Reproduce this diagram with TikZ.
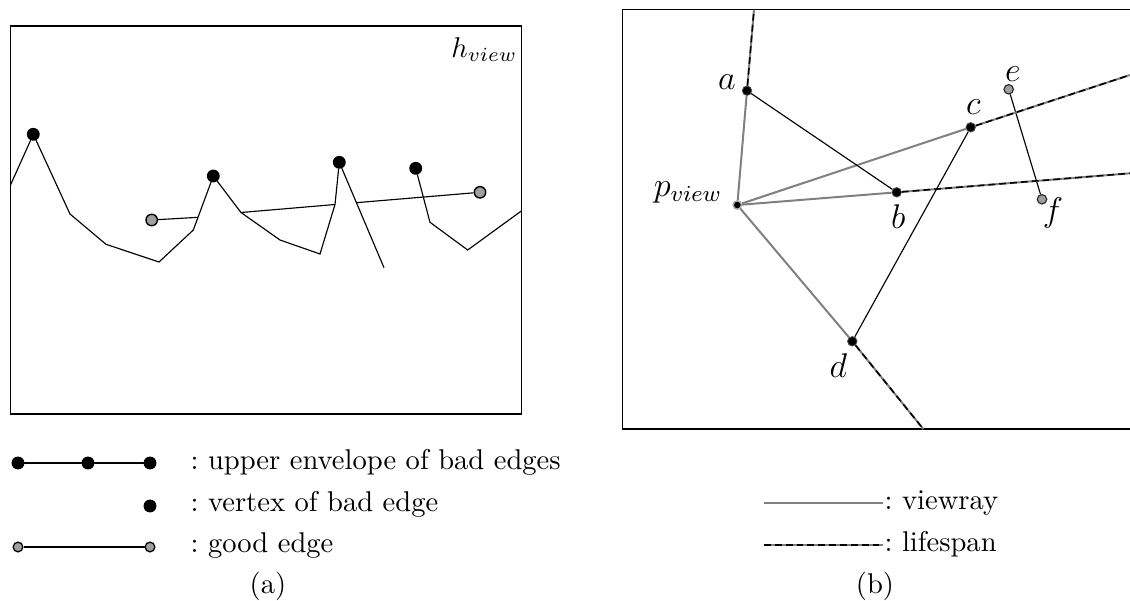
\documentclass[tikz,border=0pt]{standalone}
\usetikzlibrary{calc}
\begin{document}
\begin{tikzpicture}[x=0.35pt,y=-0.35pt,
  bad/.style={circle,fill=black,draw=black,inner sep=0pt,minimum size=4.1pt},
  good/.style={circle,fill=gray!75,draw=black,line width=0.5pt,inner sep=0pt,minimum size=4.0pt},
  lgood/.style={circle,fill=gray!75,draw=black,line width=0.45pt,inner sep=0pt,minimum size=3.4pt},
  vtx/.style={circle,fill=black,draw=black!70,line width=0.3pt,inner sep=0pt,minimum size=3.3pt},
  gvtx/.style={circle,fill=gray!75,draw=black!85,line width=0.4pt,inner sep=0pt,minimum size=3.3pt},
  pvtx/.style={circle,fill=black,draw=gray!70,line width=0.5pt,inner sep=0pt,minimum size=2.9pt},
  chain/.style={line width=0.4pt},
  frame/.style={line width=0.55pt},
  ray/.style={draw=gray,line width=0.7pt},
  life/.style={draw=gray,line width=0.7pt,postaction={draw=black,line width=0.55pt,dash pattern=on 2.4pt off 1.4pt}},
  lbl/.style={inner sep=0pt},
  legtext/.style={anchor=base west,inner sep=0pt}]
\useasboundingbox (0,0) rectangle (1130,600);

% ---------------- panel (a) ----------------
\draw[frame] (10.5,26) rectangle (521.7,414);
\node[lbl,anchor=base east] (hv) at (518,57) {$h_{view}$};

\coordinate (L0) at (10.5,185);
\node[bad] (P1) at (33.3,134.3) {};
\coordinate (L2) at (70,214);
\coordinate (L3) at (106,244.3);
\coordinate (L4) at (159,262);
\coordinate (L5) at (193.3,230);
\node[bad] (P2) at (213.3,176) {};
\coordinate (L6) at (241,212.5);
\coordinate (L7) at (280,240);
\coordinate (L8) at (320,254);
\coordinate (L9) at (335,204.5);
\node[bad] (P3) at (339.3,162.3) {};
\coordinate (L10) at (384,267.7);

\node[bad] (P4) at (415.7,168.3) {};
\coordinate (M1) at (430,222.3);
\coordinate (M2) at (467.7,250);
\coordinate (M3) at (521.7,210.7);

\node[good] (G0) at (151.7,220) {};
\node[good] (G3) at (480,192.3) {};
\coordinate (G1) at ($(L5)!0.235!(P2)$);
\coordinate (G2) at ($(P3)!0.383!(L10)$);

\draw[chain] (L0) -- (P1) -- (L2) -- (L3) -- (L4) -- (L5) -- (P2) -- (L6) -- (L7) -- (L8) -- (L9) -- (P3) -- (L10);
\draw[chain] (P4) -- (M1) -- (M2) -- (M3);
\draw[chain] (G0) -- (G1);
\draw[chain] (L6) -- (L9);
\draw[chain] (G2) -- (G3);

% legend (a)
\node[bad] (A1) at (18,463) {};
\node[bad] (A2) at (88,463) {};
\node[bad] (A3) at (150,463) {};
\draw[chain] (A1) -- (A2) -- (A3);
\node[legtext] (T1) at (190,469) {:\ upper envelope of bad edges};
\node[bad] (A4) at (150,506) {};
\node[legtext] (T2) at (190,511) {:\ vertex of bad edge};
\node[lgood] (A5) at (18,547) {};
\node[lgood] (A6) at (150,547) {};
\draw[chain] (A5) -- (A6);
\node[legtext] (T3) at (190,552) {:\ good edge};
\node[lbl] (capa) at (268,586) {(a)};

% ---------------- panel (b) ----------------
\draw[frame] (1130,9.5) -- (622.5,9.5) -- (622.5,429) -- (1130,429);

\node[pvtx] (pv) at (737.3,205) {};
\node[vtx] (a) at (747,90.7) {};
\node[vtx] (b) at (896.7,192.3) {};
\node[vtx] (c) at (970.7,127.3) {};
\node[vtx] (d) at (852.3,341.3) {};
\node[gvtx] (e) at (1008.7,89.3) {};
\node[gvtx] (f) at (1042,199.3) {};
\coordinate (aT) at (754,9.5);
\coordinate (cR) at (1130,75);
\coordinate (bR) at (1130,173.3);
\coordinate (dB) at (923.3,429);

\draw[ray] (pv) -- (a);
\draw[ray] (pv) -- (b);
\draw[ray] (pv) -- (c);
\draw[ray] (pv) -- (d);
\draw[chain] (a) -- (b);
\draw[chain] (c) -- (d);
\draw[chain] (e) -- (f);
\draw[life] (a) -- (aT);
\draw[life] (c) -- (cR);
\draw[life] (b) -- (bR);
\draw[life] (d) -- (dB);

\node[lbl] (la) at (727,82) {\large $a$};
\node[lbl] (lb) at (898.3,216.7) {\large $b$};
\node[lbl] (lc) at (973.3,106.7) {\large $c$};
\node[lbl] (ld) at (838.3,365.7) {\large $d$};
\node[lbl] (le) at (1013,74) {\large $e$};
\node[lbl] (lf) at (1053,213) {\large $f$};
\node[lbl] (lp) at (688,192.7) {\large $p_{view}$};

% legend (b)
\coordinate (V1) at (764,503);
\coordinate (V2) at (883,503);
\draw[ray] (V1) -- (V2);
\node[legtext] (T4) at (884,509) {:\ viewray};
\coordinate (W1) at (764,545);
\coordinate (W2) at (883,545);
\draw[life] (W1) -- (W2);
\node[legtext] (T5) at (884,551) {:\ lifespan};
\node[lbl] (capb) at (875,586) {(b)};
\end{tikzpicture}
\end{document}
